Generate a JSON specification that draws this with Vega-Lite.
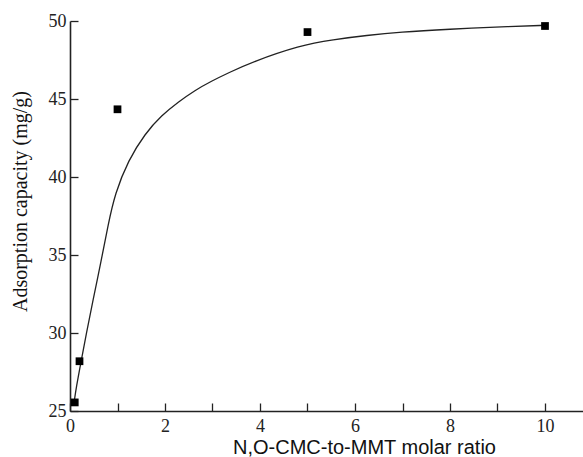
{
  "$schema": "https://vega.github.io/schema/vega-lite/v6.json",
  "width": 513,
  "height": 390,
  "autosize": {"type": "none"},
  "padding": {"left": 70, "top": 21, "right": 0, "bottom": 46},
  "background": "white",
  "config": {"view": {"stroke": null}},
  "datasets": {
    "curve": [
      {"ratio": 0.084, "capacity": 25.51},
      {"ratio": 0.133, "capacity": 26.54},
      {"ratio": 0.238, "capacity": 28.25},
      {"ratio": 0.343, "capacity": 29.96},
      {"ratio": 0.484, "capacity": 32.1},
      {"ratio": 0.659, "capacity": 34.66},
      {"ratio": 0.8, "capacity": 36.9},
      {"ratio": 0.947, "capacity": 38.94},
      {"ratio": 1.227, "capacity": 41.07},
      {"ratio": 1.579, "capacity": 42.78},
      {"ratio": 1.931, "capacity": 43.96},
      {"ratio": 2.28, "capacity": 44.81},
      {"ratio": 2.63, "capacity": 45.56},
      {"ratio": 2.98, "capacity": 46.15},
      {"ratio": 3.33, "capacity": 46.67},
      {"ratio": 3.83, "capacity": 47.37},
      {"ratio": 4.84, "capacity": 48.44},
      {"ratio": 5.54, "capacity": 48.81},
      {"ratio": 6.25, "capacity": 49.08},
      {"ratio": 6.95, "capacity": 49.29},
      {"ratio": 7.93, "capacity": 49.47},
      {"ratio": 9.33, "capacity": 49.66},
      {"ratio": 10.0, "capacity": 49.72}
    ],
    "points": [
      {"ratio": 0.1, "capacity": 25.55},
      {"ratio": 0.2, "capacity": 28.19},
      {"ratio": 1.0, "capacity": 44.34},
      {"ratio": 5.0, "capacity": 49.29},
      {"ratio": 10.0, "capacity": 49.68}
    ]
  },
  "layer": [
    {
      "mark": {"type": "rule", "color": "#222", "strokeWidth": 1.5},
      "encoding": {"y": {"datum": 50, "type": "quantitative", "scale": {"domain": [25, 50], "nice": false, "zero": false}}}
    },
    {
      "data": {"name": "curve"},
      "mark": {"type": "line", "color": "#222", "strokeWidth": 1.3, "interpolate": "basis", "clip": true},
      "encoding": {
        "x": {
          "field": "ratio", "type": "quantitative",
          "scale": {"domain": [0, 10.8], "nice": false, "zero": false},
          "axis": {
            "title": "N,O-CMC-to-MMT molar ratio",
            "titleFont": "Liberation Sans", "titleFontSize": 20, "titleFontWeight": "normal", "titleColor": "#111",
            "titleX": 294, "titlePadding": 2,
            "values": [0, 1, 2, 3, 4, 5, 6, 7, 8, 9, 10],
            "labelExpr": "datum.value % 2 == 0 ? datum.label : ''",
            "labelFont": "Liberation Serif", "labelFontSize": 18, "labelColor": "#222",
            "labelPadding": 14, "labelFlush": false,
            "ticks": true, "tickSize": -8,
            "tickColor": "#222", "tickWidth": 1.3,
            "domainColor": "#222", "domainWidth": 1.6,
            "grid": false,
            "encode": {"ticks": {"update": {"y2": {"signal": "datum.value % 2 == 0 ? -8 : -4"}}}}
          }
        },
        "y": {
          "field": "capacity", "type": "quantitative",
          "scale": {"domain": [25, 50], "nice": false, "zero": false},
          "axis": {
            "title": "Adsorption capacity (mg/g)",
            "titleFont": "Liberation Serif", "titleFontSize": 20, "titleFontWeight": "normal", "titleColor": "#111",
            "titlePadding": 18, "titleY": 180,
            "values": [25, 27.5, 30, 32.5, 35, 37.5, 40, 42.5, 45, 47.5, 50],
            "labelExpr": "datum.value % 5 == 0 ? datum.label : ''",
            "labelFont": "Liberation Serif", "labelFontSize": 18, "labelColor": "#222",
            "labelPadding": 12, "labelFlush": false,
            "ticks": true, "tickSize": -8,
            "tickColor": "#222", "tickWidth": 1.3,
            "domainColor": "#222", "domainWidth": 1.6,
            "grid": false,
            "encode": {"ticks": {"update": {"x2": {"signal": "datum.value % 5 == 0 ? 8 : 5"}}}}
          }
        }
      }
    },
    {
      "data": {"name": "points"},
      "mark": {"type": "point", "shape": "square", "filled": true, "color": "#000", "size": 60, "opacity": 1},
      "encoding": {
        "x": {"field": "ratio", "type": "quantitative"},
        "y": {"field": "capacity", "type": "quantitative"}
      }
    }
  ]
}
